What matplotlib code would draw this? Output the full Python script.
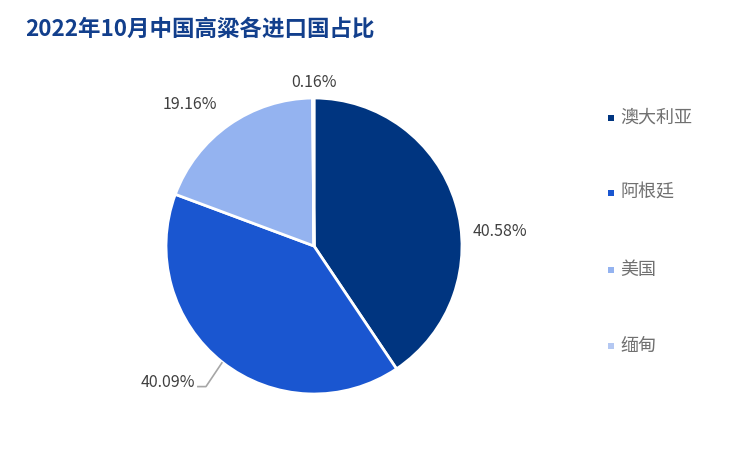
import matplotlib
matplotlib.use("Agg")
import matplotlib.pyplot as plt
import numpy as np

plt.rcParams['font.family'] = ['Noto Sans CJK SC', 'DejaVu Sans']

title = "2022年10月中国高粱各进口国占比"
countries = ["澳大利亚", "阿根廷", "美国", "缅甸"]
shares = [40.58, 40.09, 19.16, 0.16]
label_texts = ["40.58%", "40.09%", "19.16%", "0.16%"]
colors = ["#003580", "#1a56d0", "#94b3f0", "#b4c8f2"]

fig = plt.figure(figsize=(7.5, 4.5), dpi=100)
fig.patch.set_facecolor("white")

# pie axes: center (314,246) px, radius 148 px
R = 148
cx, cy = 314, 246
ax = fig.add_axes([(cx - R) / 750, (450 - cy - R) / 450, 2 * R / 750, 2 * R / 450])
wedges, _ = ax.pie(shares, colors=colors, startangle=90, counterclock=False,
                   wedgeprops=dict(edgecolor="white", linewidth=2))
ax.set_xlim(-1, 1)
ax.set_ylim(-1, 1)
ax.set_aspect("equal")
ax.axis("off")

# label positions (layout, in radius units)
label_pos = [(1.257, 0.10, "center"), (-0.80, -0.92, "right"),
             (-0.838, 0.953, "center"), (0.0, 1.108, "center")]
for w, txt, (x, y, ha) in zip(wedges, label_texts, label_pos):
    ax.text(x, y, txt, ha=ha, va="center", fontsize=11.5, color="#404040",
            clip_on=False)

# leader line for Argentina
w = wedges[1]
mid = np.deg2rad((w.theta1 + w.theta2) / 2)
x0, y0 = np.cos(mid), np.sin(mid)
ax.plot([x0, -0.73, -0.79], [y0, -0.95, -0.95], color="#a6a6a6", lw=1.2,
        clip_on=False, solid_capstyle="butt")

# title
fig.text(25 / 750, 1 - 29 / 450, title, fontsize=16.2, fontweight="bold",
         color="#123f8c", ha="left", va="center")

# legend
leg_y = [118, 193, 270, 346]
for c, name, y in zip(colors, countries, leg_y):
    fig.patches.append(plt.Rectangle(((608) / 750, 1 - (y + 3) / 450), 6 / 750, 6 / 450,
                                     transform=fig.transFigure, facecolor=c,
                                     edgecolor="none"))
    fig.text(620 / 750, 1 - y / 450, name, fontsize=13, color="#707070",
             ha="left", va="center")

fig.savefig("out.png", dpi=100, facecolor="white")
